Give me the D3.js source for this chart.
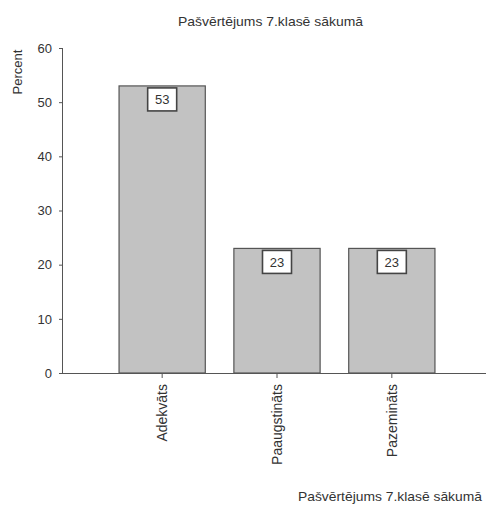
<!DOCTYPE html>
<html><head><meta charset="utf-8">
<script src="https://cdn.jsdelivr.net/npm/d3@7"></script>
<style>body{margin:0;background:#fff}svg text{font-family:"Liberation Sans",Arial,sans-serif;fill:#333}</style>
</head><body>
<script>
const categories = ["Adekvāts", "Paaugstināts", "Pazemināts"];
const values = [53, 23, 23];
const yTicks = [0, 10, 20, 30, 40, 50, 60];
const title = "Pašvērtējums 7.klasē sākumā";
const yTitle = "Percent";
const xTitle = "Pašvērtējums 7.klasē sākumā";

(function () {
const W = 486, H = 505;
const svg = d3.select("body").append("svg").attr("width", W).attr("height", H);
const mLeft = 63, mRight = 486, mTop = 48, mBottom = 373;
const x = d3.scaleBand().domain(categories).range([84.6, 469.4]).paddingInner(0.249).paddingOuter(0.3);
const y = d3.scaleLinear().domain([0, 60]).range([mBottom, mTop]);

svg.append("text").attr("x", 178).attr("y", 26).attr("font-size", 13)
  .attr("textLength", 185).attr("lengthAdjust", "spacingAndGlyphs").text(title);
svg.append("text").attr("transform", `translate(22,72) rotate(-90)`).attr("text-anchor", "middle").attr("font-size", 13).text(yTitle);
svg.append("text").attr("x", 298).attr("y", 501).attr("font-size", 13)
  .attr("textLength", 184).attr("lengthAdjust", "spacingAndGlyphs").text(xTitle);

// bars
const g = svg.append("g");
g.selectAll("rect.bar").data(values).join("rect").attr("class", "bar")
  .attr("x", (d, i) => x(categories[i])).attr("y", d => y(d))
  .attr("width", x.bandwidth()).attr("height", d => mBottom - y(d))
  .attr("fill", "#c2c2c2").attr("stroke", "#555").attr("stroke-width", 1.2);

// value labels
values.forEach((v, i) => {
  const cx = x(categories[i]) + x.bandwidth() / 2;
  const ty = y(v) + 2;
  g.append("rect").attr("x", cx - 14.5).attr("y", ty).attr("width", 29).attr("height", 23)
    .attr("fill", "#fff").attr("stroke", "#444").attr("stroke-width", 1.6);
  g.append("text").attr("x", cx).attr("y", ty + 16.5).attr("text-anchor", "middle").attr("font-size", 13).text(v);
});

// y axis
const yAxis = svg.append("g").attr("transform", `translate(${mLeft},0)`)
  .call(d3.axisLeft(y).tickValues(yTicks).tickSize(4).tickPadding(7));
yAxis.select(".domain").attr("stroke", "#555").attr("d", `M-0.5,${mTop}V${mBottom}`);
yAxis.selectAll(".tick line").attr("stroke", "#555");
yAxis.selectAll(".tick text").attr("font-size", 13).attr("fill", "#333").attr("font-family", "Liberation Sans, Arial, sans-serif");

// x axis
const xAxis = svg.append("g").attr("transform", `translate(0,${mBottom})`)
  .call(d3.axisBottom(x).tickSize(5).tickPadding(4));
xAxis.select(".domain").attr("stroke", "#555").attr("d", `M${mLeft},0.5H${mRight}`);
xAxis.selectAll(".tick line").attr("stroke", "#555");
xAxis.selectAll(".tick text").attr("font-size", 14).attr("fill", "#333").attr("font-family", "Liberation Sans, Arial, sans-serif")
  .attr("transform", "rotate(-90)").attr("text-anchor", "end").attr("dy", "0.35em").attr("x", -11).attr("y", 0);
})();
</script>
</body></html>
